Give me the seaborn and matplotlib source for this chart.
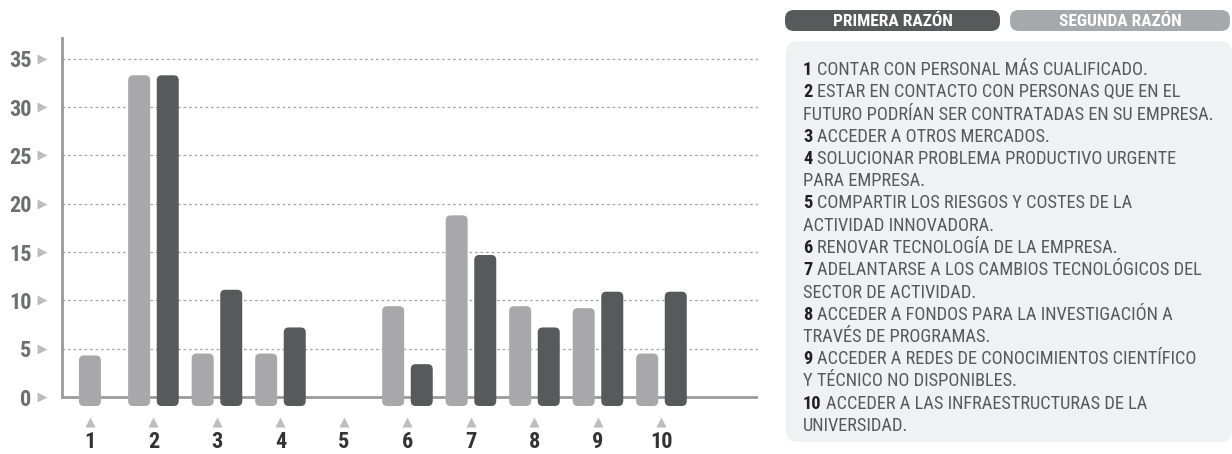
import os
import numpy as np
import pandas as pd
import matplotlib
matplotlib.use("Agg")
import matplotlib.pyplot as plt
from matplotlib import font_manager as fm
from matplotlib.patches import FancyBboxPatch
import seaborn as sns

# ---- data -------------------------------------------------------------
motivos = ["1", "2", "3", "4", "5", "6", "7", "8", "9", "10"]
segunda_razon = [4.3, 33.3, 4.5, 4.5, np.nan, 9.4, 18.8, 9.4, 9.2, 4.5]
primera_razon = [np.nan, 33.3, 11.1, 7.2, np.nan, 3.4, 14.7, 7.2, 10.9, 10.9]
series = ["SEGUNDA RAZÓN", "PRIMERA RAZÓN"]
y_ticks = [0, 5, 10, 15, 20, 25, 30, 35]

descripciones = [
    ("1", ["CONTAR CON PERSONAL MÁS CUALIFICADO."]),
    ("2", ["ESTAR EN CONTACTO CON PERSONAS QUE EN EL",
           "FUTURO PODRÍAN SER CONTRATADAS EN SU EMPRESA."]),
    ("3", ["ACCEDER A OTROS MERCADOS."]),
    ("4", ["SOLUCIONAR PROBLEMA PRODUCTIVO URGENTE",
           "PARA EMPRESA."]),
    ("5", ["COMPARTIR LOS RIESGOS Y COSTES DE LA",
           "ACTIVIDAD INNOVADORA."]),
    ("6", ["RENOVAR TECNOLOGÍA DE LA EMPRESA."]),
    ("7", ["ADELANTARSE A LOS CAMBIOS TECNOLÓGICOS DEL",
           "SECTOR DE ACTIVIDAD."]),
    ("8", ["ACCEDER A FONDOS PARA LA INVESTIGACIÓN A",
           "TRAVÉS DE PROGRAMAS."]),
    ("9", ["ACCEDER A REDES DE CONOCIMIENTOS CIENTÍFICO",
           "Y TÉCNICO NO DISPONIBLES."]),
    ("10", ["ACCEDER A LAS INFRAESTRUCTURAS DE LA",
            "UNIVERSIDAD."]),
]


# ---- fonts: prefer a condensed sans face ------------------------------
def _weight(entry):
    w = entry.weight
    if isinstance(w, str):
        return fm.weight_dict.get(w, 400)
    return int(w)


def narrow_font(bold):
    prefs = ["roboto condensed", "liberation sans narrow", "open sans condensed",
             "dejavu sans condensed", "noto sans condensed", "arial narrow"]
    found = []
    for f in fm.fontManager.ttflist:
        key = (f.name + " " + os.path.basename(f.fname)).lower()
        if f.style != "normal" or "italic" in key or "oblique" in key:
            continue
        cond = ("condensed" in key or "narrow" in key
                or f.stretch in ("condensed", "semi-condensed",
                                 "extra-condensed", 350, 400, 450))
        if "semicondensed" in key or "extracondensed" in key or "ultra" in key:
            continue
        if not cond:
            continue
        w = _weight(f)
        if bold and w < 600:
            continue
        if not bold and not (350 <= w <= 500):
            continue
        rank = len(prefs)
        for i, p in enumerate(prefs):
            if p.replace(" ", "") in key.replace(" ", "").replace("-", "").replace("_", ""):
                rank = i
                break
        found.append((rank, abs(w - (700 if bold else 400)), f.fname))
    if found:
        found.sort()
        return fm.FontProperties(fname=found[0][2])
    return fm.FontProperties(family=["Roboto", "DejaVu Sans"],
                             weight="bold" if bold else "normal")


FP_REG = narrow_font(False)
FP_BOLD = narrow_font(True)


def fp(base, size):
    p = base.copy()
    p.set_size(size)
    return p


# ---- style ------------------------------------------------------------
LIGHT = "#a7a8ab"
DARK = "#58595b"
AXIS = "#9b9b9b"
sns.set_style("white")

W, H = 1232, 454
fig = plt.figure(figsize=(W / 100, H / 100), dpi=100)
ax = fig.add_axes([62 / W, 1 - 408.6 / H, (758 - 62) / W, (408.6 - 37.6) / H])

df = pd.DataFrame({
    "motivo": motivos * 2,
    "valor": segunda_razon + primera_razon,
    "razon": [series[0]] * len(motivos) + [series[1]] * len(motivos),
}).dropna()

sns.barplot(data=df, x="motivo", y="valor", hue="razon", order=motivos,
            hue_order=series, palette=[LIGHT, DARK], width=0.9, gap=0.23,
            errorbar=None, legend=False, ax=ax)

ax.set_xlim(-0.44, 10.52)
ax.set_ylim(-1.2, 37.2)

# replace flat bars by rounded ones that start slightly below the baseline
n_valid = [int(np.isfinite(a)) + int(np.isfinite(b))
           for a, b in zip(segunda_razon, primera_razon)]
p0 = ax.transData.transform((0, 0))
px_x = ax.transData.transform((1, 0))[0] - p0[0]
px_y = ax.transData.transform((0, 1))[1] - p0[1]
radius_px = 5.0
bottom = -9.0 / px_y

bars = [(p.get_x(), p.get_width(), p.get_height(), p.get_facecolor())
        for p in ax.patches]
for p in list(ax.patches):
    p.remove()

for x, w, h, fc in bars:
    if not np.isfinite(h):
        continue
    g = int(round(x + w / 2))
    if n_valid[g] == 1:
        x = g - w / 2
    ax.add_patch(FancyBboxPatch(
        (x, bottom), w, h - bottom,
        boxstyle=f"round,pad=0,rounding_size={radius_px / px_x}",
        mutation_aspect=px_x / px_y, fc=fc, ec="none", zorder=3))

# axes, grid and baseline
ax.set_xlabel("")
ax.set_ylabel("")
for s in ("top", "right", "bottom"):
    ax.spines[s].set_visible(False)
ax.spines["left"].set_bounds(0, 37.2)
ax.spines["left"].set_color(AXIS)
ax.spines["left"].set_linewidth(2)
ax.axhline(0, color=AXIS, lw=2, zorder=2)
ax.set_yticks(y_ticks)
ax.set_yticklabels([str(v) for v in y_ticks])
ax.grid(axis="y", linestyle=(0, (2.2, 2.2)), color="#a6a6a6", lw=0.9)
ax.grid(axis="x", visible=False)
ax.set_axisbelow(True)

ax.tick_params(axis="y", length=0, pad=22, labelcolor="#6d6e71")
ax.tick_params(axis="x", length=0, pad=16, labelcolor="#333333")
for lbl in ax.get_xticklabels() + ax.get_yticklabels():
    lbl.set_fontproperties(fp(FP_BOLD, 16))

# small triangle markers next to tick labels
ax.plot(range(len(motivos)), [-25 / px_y] * len(motivos), ls="none",
        marker="^", ms=7, color="#bdbdbd", mec="none", clip_on=False)
ax.plot([-20 / 696] * len(y_ticks), y_ticks, ls="none", marker=">", ms=7,
        color="#bdbdbd", mec="none", clip_on=False,
        transform=ax.get_yaxis_transform())

# ---- legend pills and description panel --------------------------------
ov = fig.add_axes([0, 0, 1, 1])
ov.set_xlim(0, W)
ov.set_ylim(H, 0)
ov.axis("off")
ov.patch.set_alpha(0)

ov.add_patch(FancyBboxPatch((785, 10), 215, 21,
                            boxstyle="round,pad=0,rounding_size=9",
                            fc=DARK, ec="none"))
ov.add_patch(FancyBboxPatch((1010, 10), 220, 21,
                            boxstyle="round,pad=0,rounding_size=9",
                            fc=LIGHT, ec="none"))
ov.add_patch(FancyBboxPatch((786, 41), 446, 401,
                            boxstyle="round,pad=0,rounding_size=12",
                            fc="#f0f1f3", ec="none"))

renderer = fig.canvas.get_renderer()

# size the description text so the longest line fits the panel
size = 13.5
probe = ov.text(0, 0, "FUTURO PODRÍAN SER CONTRATADAS EN SU EMPRESA.",
                fontproperties=fp(FP_REG, size))
wpx = probe.get_window_extent(renderer).width
probe.remove()
if wpx > 410:
    size *= 410 / wpx

ov.text(892.5, 21, "PRIMERA RAZÓN", color="white",
        fontproperties=fp(FP_BOLD, 12.5), ha="center", va="center")
ov.text(1120, 21, "SEGUNDA RAZÓN", color="white",
        fontproperties=fp(FP_BOLD, 12.5), ha="center", va="center")

x0 = 803
y = 75.0
step = 22.25
for num, lines in descripciones:
    t = ov.text(x0, y, num, fontproperties=fp(FP_BOLD, size),
                color="#231f20", ha="left", va="baseline")
    bb = t.get_window_extent(renderer)
    ov.text(bb.x1 + 4.5, y, lines[0], fontproperties=fp(FP_REG, size),
            color="#58595b", ha="left", va="baseline")
    y += step
    for extra in lines[1:]:
        ov.text(x0, y, extra, fontproperties=fp(FP_REG, size),
                color="#58595b", ha="left", va="baseline")
        y += step

fig.savefig("out.png", dpi=100)
